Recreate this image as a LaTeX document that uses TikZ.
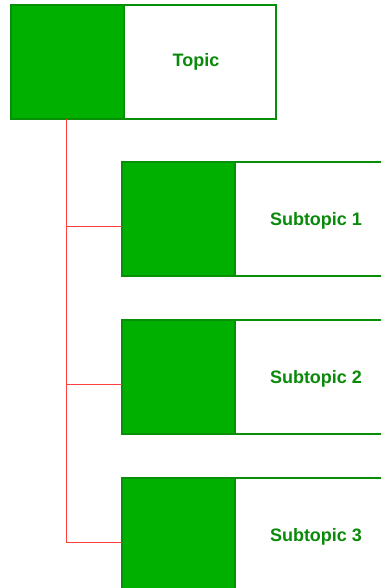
\documentclass[tikz,border=0pt]{standalone}
\usepackage{fontspec}
\setmainfont{Liberation Sans}
\usetikzlibrary{calc}
\definecolor{boxgreen}{HTML}{00B000}
\definecolor{edgegreen}{HTML}{078F07}
\definecolor{textgreen}{HTML}{0A8A0A}
\definecolor{linkred}{HTML}{FF4040}
\begin{document}
\begin{tikzpicture}[x=1pt,y=-1pt,
  swatch/.style={draw=edgegreen, fill=boxgreen, line width=1.5pt,
    minimum width=113pt, minimum height=114pt, inner sep=0pt, outer sep=0pt,
    anchor=north west},
  card/.style={draw=edgegreen, fill=white, line width=1.5pt,
    minimum height=114pt, inner sep=0pt, outer sep=0pt, anchor=north west},
  caption/.style={text=textgreen, font=\fontsize{18}{20}\selectfont\bfseries,
    inner sep=0pt, anchor=base},
  link/.style={draw=linkred, line width=1pt}]
\useasboundingbox (0,0) rectangle (381,588);
\clip (0,0) rectangle (381,588);

% main topic
\node[card, minimum width=152pt] (topic) at (124,5) {};
\node[swatch] (topicL) at (11,5) {};
\node[caption] (topicT) at (196,66.5) {Topic};

% subtopics
\node[card, minimum width=160pt] (sub1) at (235,162) {};
\node[swatch] (sub1L) at (122,162) {};
\node[caption] (sub1T) at (316,225) {Subtopic 1};

\node[card, minimum width=160pt] (sub2) at (235,320) {};
\node[swatch] (sub2L) at (122,320) {};
\node[caption] (sub2T) at (316,383) {Subtopic 2};

\node[card, minimum width=160pt] (sub3) at (235,478) {};
\node[swatch] (sub3L) at (122,478) {};
\node[caption] (sub3T) at (316,541) {Subtopic 3};

% connectors
\coordinate (spine) at (66,119.5);
\draw[link] (spine) |- ([yshift=-7pt]sub1L.west);
\draw[link] (spine) |- ([yshift=-7pt]sub2L.west);
\draw[link] (spine) |- ([yshift=-7pt]sub3L.west);
\end{tikzpicture}
\end{document}
